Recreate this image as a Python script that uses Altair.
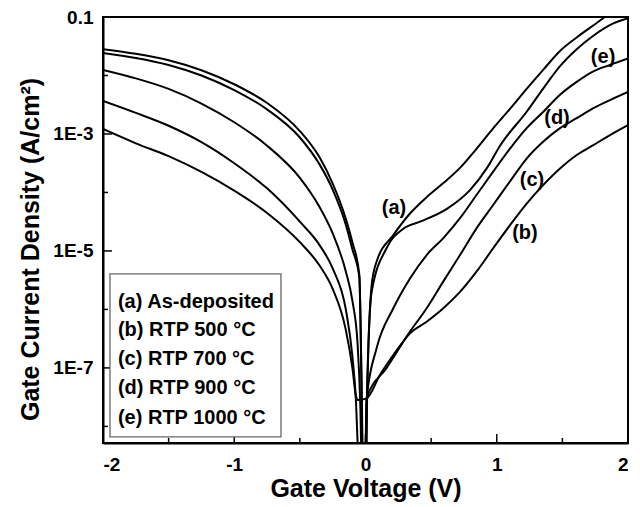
import altair as alt
import pandas as pd

# ---- data (gate voltage V, log10 of current density A/cm^2) ----
a_v = [-2.0, -1.75, -1.5, -1.25, -1.0, -0.75, -0.5, -0.35, -0.25, -0.15, -0.1, -0.047, -0.028, -0.015, 0.003, 0.012,
       0.047, 0.085, 0.212, 0.339, 0.466, 0.593, 0.72, 0.847, 0.974, 1.101, 1.228, 1.355, 1.482, 1.609, 1.787, 1.9]
a_lg = [-1.55, -1.63, -1.74, -1.91, -2.15, -2.47, -2.95, -3.4, -3.85, -4.45, -4.85, -5.41, -7.5, -9.2, -9.2, -7.55,
        -5.58, -5.18, -4.73, -4.36, -4.08, -3.84, -3.58, -3.25, -2.9, -2.57, -2.23, -1.9, -1.58, -1.35, -1.06, -0.86]

e_v = [-2.0, -1.75, -1.5, -1.25, -1.0, -0.75, -0.5, -0.35, -0.25, -0.15, -0.1, -0.047, -0.03, -0.02, 0.0, 0.01,
       0.047, 0.161, 0.288, 0.415, 0.62, 0.796, 0.926, 1.025, 1.228, 1.355, 1.482, 1.609, 1.736, 1.888, 2.0]
e_lg = [-1.615, -1.7, -1.82, -2.0, -2.25, -2.58, -3.06, -3.52, -3.95, -4.55, -4.97, -5.45, -7.4, -9.2, -9.2, -7.6,
        -5.70, -4.95, -4.62, -4.50, -4.28, -3.96, -3.58, -3.2, -2.62, -2.22, -1.84, -1.55, -1.32, -1.11, -1.02]

d_v = [-2.0, -1.75, -1.5, -1.25, -1.0, -0.75, -0.5, -0.35, -0.25, -0.15, -0.1, -0.06, -0.04, -0.025, 0.0, 0.009,
       0.085, 0.212, 0.339, 0.466, 0.593, 0.72, 0.847, 0.974, 1.101, 1.228, 1.355, 1.482, 1.609, 1.736, 1.863, 2.0]
d_lg = [-1.906, -2.05, -2.23, -2.48, -2.8, -3.2, -3.75, -4.25, -4.7, -5.35, -5.85, -6.6, -7.6, -9.0, -8.6, -7.52,
        -6.66, -5.98, -5.47, -5.07, -4.78, -4.44, -4.04, -3.64, -3.25, -2.90, -2.62, -2.33, -2.11, -1.93, -1.82, -1.71]

c_v = [-2.0, -1.75, -1.5, -1.25, -1.0, -0.75, -0.5, -0.35, -0.25, -0.15, -0.1, -0.072, -0.055, -0.04, -0.005, 0.009,
       0.161, 0.339, 0.466, 0.593, 0.72, 0.847, 0.974, 1.101, 1.228, 1.355, 1.482, 1.609, 1.736, 1.863, 2.0]
c_lg = [-2.436, -2.64, -2.86, -3.14, -3.5, -3.93, -4.5, -4.9, -5.3, -6.0, -6.8, -7.6, -8.6, -9.5, -9.0, -7.52,
        -7.0, -6.38, -5.98, -5.52, -5.07, -4.61, -4.21, -3.81, -3.42, -3.13, -2.90, -2.73, -2.56, -2.42, -2.28]

b_v = [-2.0, -1.75, -1.5, -1.25, -1.0, -0.75, -0.5, -0.35, -0.25, -0.15, -0.1, -0.075, -0.057, 0.009,
       0.11, 0.212, 0.339, 0.466, 0.593, 0.72, 0.847, 0.974, 1.101, 1.228, 1.355, 1.482, 1.609, 1.736, 1.863, 2.0]
b_lg = [-2.915, -3.16, -3.38, -3.65, -3.97, -4.35, -4.85, -5.25, -5.65, -6.35, -7.0, -7.45, -7.55, -7.52,
        -7.12, -6.78, -6.41, -6.21, -5.98, -5.70, -5.35, -4.95, -4.56, -4.19, -3.87, -3.59, -3.36, -3.19, -3.02, -2.85]

curve_ids = ["a", "b", "c", "d", "e"]
curve_v = {"a": a_v, "b": b_v, "c": c_v, "d": d_v, "e": e_v}
curve_lg = {"a": a_lg, "b": b_lg, "c": c_lg, "d": d_lg, "e": e_lg}

legend_text = ["(a) As-deposited", "(b) RTP 500 \u00b0C", "(c) RTP 700 \u00b0C",
               "(d) RTP 900 \u00b0C", "(e) RTP 1000 \u00b0C"]
legend_lg = [-5.872, -6.35, -6.846, -7.342, -7.855]
legend_v = -1.886
legend_box_v = [-1.947, -0.644]
legend_box_lg = [-5.393, -8.18]

label_text = ["(a)", "(b)", "(c)", "(d)", "(e)"]
label_v = [0.217, 1.215, 1.269, 1.459, 1.81]
label_lg = [-4.265, -4.69, -3.786, -2.727, -1.684]

x_major = [-1, 0, 1]
x_minor = [-1.5, -0.5, 0.5, 1.5]
y_major = [1e-3, 1e-5, 1e-7]
y_minor = [1e-2, 1e-4, 1e-6, 1e-8]
x_labels = [-2, -1, 0, 1, 2]
y_labels = [0.1, 1e-3, 1e-5, 1e-7]

W, H = 525, 426
FONT = "Liberation Sans"

rows = []
for cid in curve_ids:
    for i, (v, lg) in enumerate(zip(curve_v[cid], curve_lg[cid])):
        rows.append({"curve": cid, "idx": i, "V": v, "J": 10 ** lg})
df = pd.DataFrame(rows)

xs = alt.Scale(domain=[-2, 2], nice=False, zero=False)
ys = alt.Scale(type="log", domain=[5.2e-9, 0.1], nice=False)

axis_style = dict(
    ticks=False, tickSize=0, grid=False,
    labelFont=FONT, labelFontSize=19, labelFontWeight="bold", labelColor="black",
    titleFont=FONT, titleFontSize=25, titleFontWeight="bold", titleColor="black",
    domainColor="black", domainWidth=2)

lines = alt.Chart(df).mark_line(color="black", strokeWidth=2, clip=True, interpolate="monotone").encode(
    x=alt.X("V:Q", scale=xs, axis=alt.Axis(
        title="Gate Voltage (V)", values=x_labels, labelExpr="'' + datum.value",
        labelPadding=12, titlePadding=2, **axis_style)),
    y=alt.Y("J:Q", scale=ys, axis=alt.Axis(
        title="Gate Current Density (A/cm\u00b2)", values=y_labels,
        labelExpr="datum.value >= 0.05 ? '0.1' : '1E-' + round(-log(datum.value) / LN10)",
        labelPadding=10, titlePadding=9, titleY=232, **axis_style)),
    detail="curve:N",
    order="idx:Q",
)

xt_major = alt.Chart(pd.DataFrame({"V": x_major})).mark_rule(color="black", strokeWidth=1.5).encode(
    x=alt.X("V:Q", scale=xs), y=alt.value(H), y2=alt.value(H - 9))
xt_minor = alt.Chart(pd.DataFrame({"V": x_minor})).mark_rule(color="black", strokeWidth=1.5).encode(
    x=alt.X("V:Q", scale=xs), y=alt.value(H), y2=alt.value(H - 5))
yt_major = alt.Chart(pd.DataFrame({"J": y_major})).mark_rule(color="black", strokeWidth=1.5).encode(
    y=alt.Y("J:Q", scale=ys), x=alt.value(0), x2=alt.value(9))
yt_minor = alt.Chart(pd.DataFrame({"J": y_minor})).mark_rule(color="black", strokeWidth=1.5).encode(
    y=alt.Y("J:Q", scale=ys), x=alt.value(0), x2=alt.value(5))

box = alt.Chart(pd.DataFrame({
    "V1": [legend_box_v[0]], "V2": [legend_box_v[1]],
    "J1": [10 ** legend_box_lg[0]], "J2": [10 ** legend_box_lg[1]]})).mark_rect(
    fill="white", stroke="#666666", strokeWidth=1.3).encode(
    x=alt.X("V1:Q", scale=xs), x2="V2:Q", y=alt.Y("J1:Q", scale=ys), y2="J2:Q")

leg = alt.Chart(pd.DataFrame({"t": legend_text, "V": [legend_v] * 5,
                              "J": [10 ** v for v in legend_lg]})).mark_text(
    align="left", baseline="middle", fontSize=20, fontWeight="bold", font=FONT, color="black").encode(
    x=alt.X("V:Q", scale=xs), y=alt.Y("J:Q", scale=ys), text="t:N")

labs = alt.Chart(pd.DataFrame({"t": label_text, "V": label_v,
                               "J": [10 ** v for v in label_lg]})).mark_text(
    align="center", baseline="middle", fontSize=20, fontWeight="bold", font=FONT, color="black").encode(
    x=alt.X("V:Q", scale=xs), y=alt.Y("J:Q", scale=ys), text="t:N")

chart = alt.layer(lines, xt_major, xt_minor, yt_major, yt_minor, box, leg, labs).properties(
    width=W, height=H,
    background="white",
    autosize=alt.AutoSizeParams(type="none"),
    padding={"left": 95, "top": 9, "right": 4, "bottom": 60},
).configure_view(stroke="black", strokeWidth=2)

chart.save("out.html", embed_options={"renderer": "svg", "actions": False})
